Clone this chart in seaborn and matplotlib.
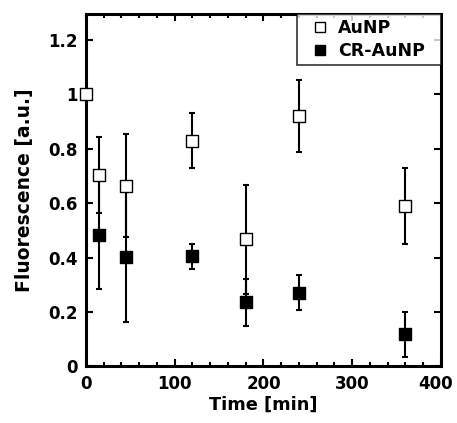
import matplotlib
matplotlib.use("Agg")
import matplotlib.pyplot as plt
import matplotlib.transforms as mtransforms
import seaborn as sns
import pandas as pd
import numpy as np
from matplotlib.ticker import MultipleLocator, NullLocator
from matplotlib.lines import Line2D

# Data
time_aunp = [0, 15, 45, 120, 180, 240, 360]
fluor_aunp = [1.0, 0.705, 0.665, 0.83, 0.467, 0.92, 0.59]
err_aunp = [0.0, 0.14, 0.19, 0.10, 0.20, 0.133, 0.14]

time_cr = [15, 45, 120, 180, 240, 360]
fluor_cr = [0.485, 0.403, 0.405, 0.236, 0.271, 0.118]
err_cr = [0.2, 0.24, 0.046, 0.087, 0.065, 0.083]

series_names = ["AuNP", "CR-AuNP"]
y_ticks = [0, 0.2, 0.4, 0.6, 0.8, 1.0, 1.2]
y_ticklabels = ["0", "0.2", "0.4", "0.6", "0.8", "1", "1.2"]

sns.set_style("ticks")
plt.rcParams['font.family'] = ['DejaVu Sans']
plt.rcParams['text.color'] = 'black'
plt.rcParams['axes.labelcolor'] = 'black'
plt.rcParams['xtick.color'] = 'black'
plt.rcParams['ytick.color'] = 'black'

df = pd.concat([
    pd.DataFrame({"Time": time_aunp, "F": fluor_aunp, "err": err_aunp, "Sample": series_names[0]}),
    pd.DataFrame({"Time": time_cr, "F": fluor_cr, "err": err_cr, "Sample": series_names[1]}),
])

fig = plt.figure(figsize=(4.57, 4.23), dpi=100)
ax = fig.add_axes([0.188, 0.1336, 0.777, 0.833])

for name in series_names:
    sub = df[df["Sample"] == name]
    ax.errorbar(sub["Time"], sub["F"], yerr=sub["err"], fmt="none", ecolor="black",
                elinewidth=1.5, capsize=2.4, capthick=1.5, zorder=2)

sns.scatterplot(data=df[df["Sample"] == "AuNP"], x="Time", y="F", marker="s", s=78,
                facecolor="white", edgecolor="black", linewidth=1.0, ax=ax, zorder=3,
                legend=False, clip_on=False)
sns.scatterplot(data=df[df["Sample"] == "CR-AuNP"], x="Time", y="F", marker="s", s=78,
                color="black", edgecolor="black", linewidth=1.0, ax=ax, zorder=3,
                legend=False, clip_on=False)

ax.set_xlim(0, 400)
ax.set_ylim(0, 1.295)
ax.xaxis.set_major_locator(MultipleLocator(100))
ax.xaxis.set_minor_locator(MultipleLocator(20))
ax.set_yticks(y_ticks)
ax.set_yticklabels(y_ticklabels)
ax.yaxis.set_minor_locator(NullLocator())

ax.tick_params(which="both", direction="in", top=True, right=True, width=1.5, labelsize=12,
               colors="black")
ax.tick_params(which="major", length=5)
ax.tick_params(which="minor", length=3)
ax.tick_params(axis="x", which="major", pad=6)
ax.tick_params(axis="y", which="major", pad=6)
for lab in ax.get_xticklabels() + ax.get_yticklabels():
    lab.set_fontweight("bold")

fig.canvas.draw()
xlabels = ax.get_xticklabels()
shift = mtransforms.ScaledTranslation(-5 / 100, 0, fig.dpi_scale_trans)
for lab in xlabels:
    if lab.get_text() == "400":
        lab.set_transform(lab.get_transform() + shift)

for sp in ax.spines.values():
    sp.set_linewidth(2.2)
    sp.set_color("black")

ax.set_xlabel("Time [min]", fontsize=12.8, fontweight="bold", labelpad=2)
ax.set_ylabel("Fluorescence [a.u.]", fontsize=13.5, fontweight="bold", labelpad=10)

handles = [
    Line2D([], [], marker="s", linestyle="none", markerfacecolor="white", markeredgecolor="black",
           markersize=7.5, markeredgewidth=1.0),
    Line2D([], [], marker="s", linestyle="none", markerfacecolor="black", markeredgecolor="black",
           markersize=7.5, markeredgewidth=1.0),
]
leg = ax.legend(handles, series_names, loc="upper left", bbox_to_anchor=(0.594, 0.0, 0.406, 1.0),
                mode="expand", frameon=True, fancybox=False,
                edgecolor="black", borderaxespad=0, handletextpad=0.0, handlelength=2.05,
                prop={"weight": "bold", "size": 12.5}, borderpad=0.3, labelspacing=0.28)
leg.get_frame().set_linewidth(1.2)

fig.savefig("out.png", dpi=100)
